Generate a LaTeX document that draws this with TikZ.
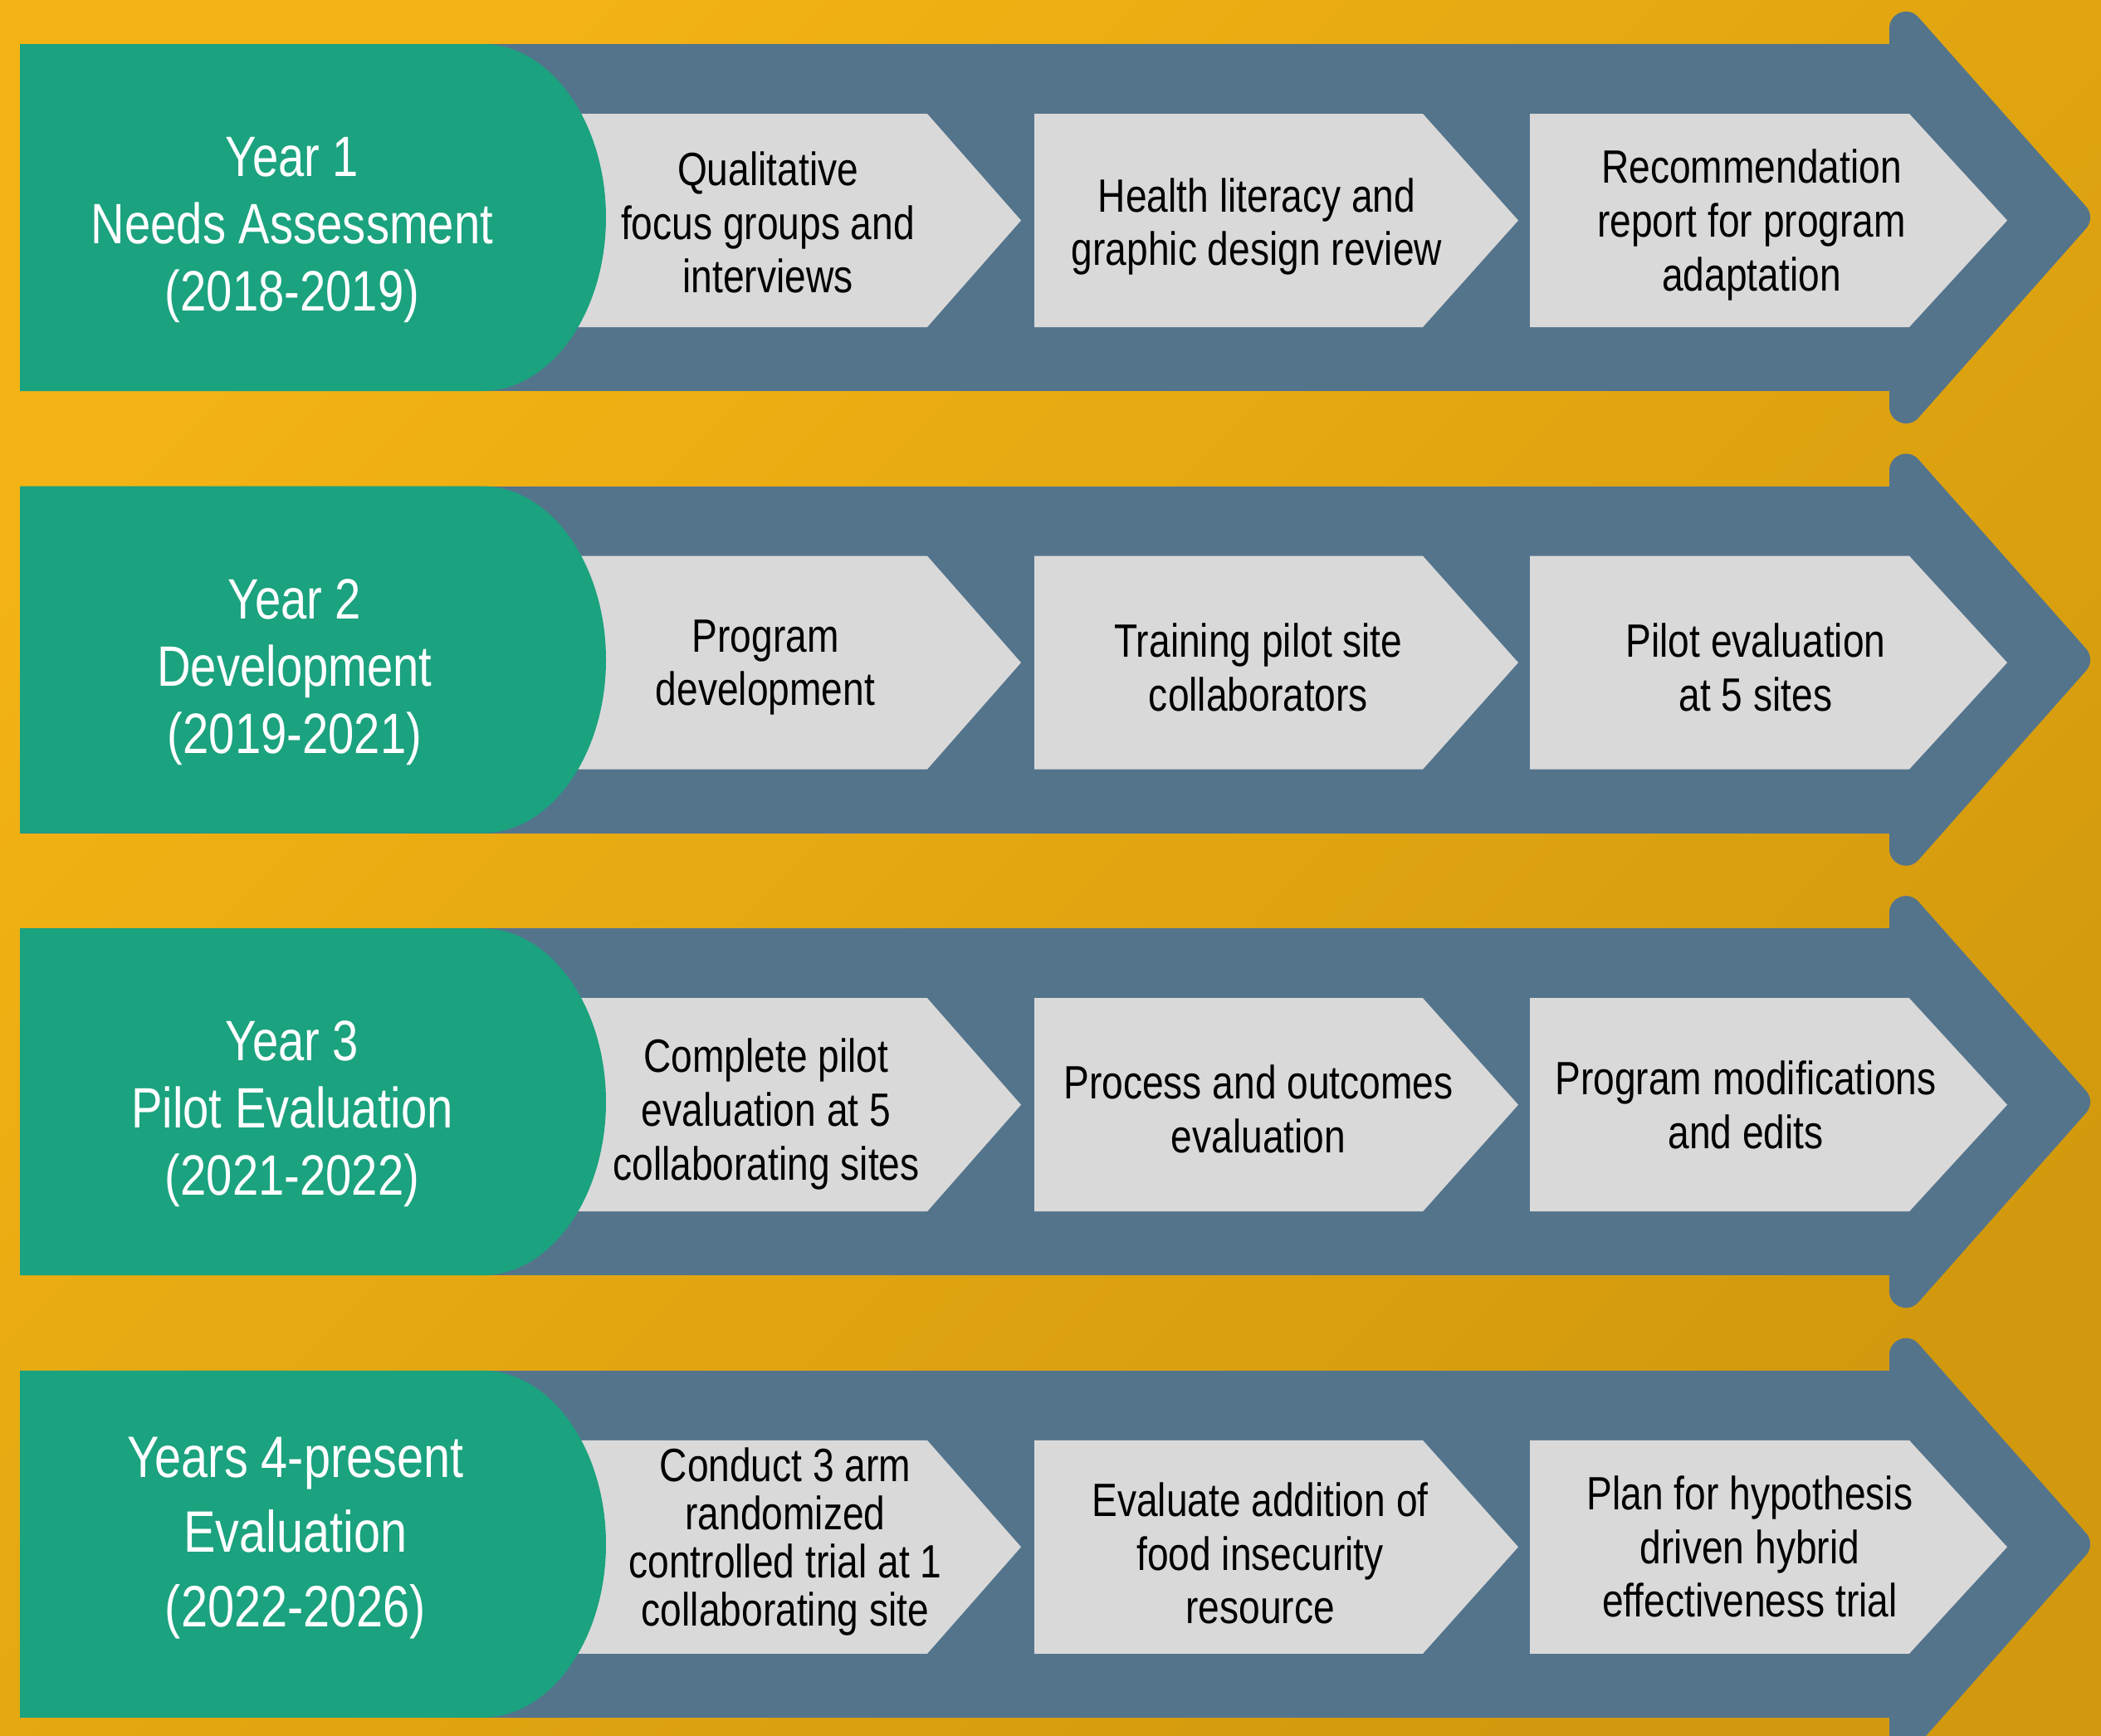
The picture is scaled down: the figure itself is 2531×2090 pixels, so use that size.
\documentclass[tikz,border=0pt]{standalone}
\usepackage{fontspec}
\setmainfont{Liberation Sans}[FakeStretch=0.82]
\usetikzlibrary{positioning}

\definecolor{bglight}{RGB}{243,179,20}
\definecolor{bgdark}{RGB}{210,153,14}
\definecolor{bandblue}{RGB}{84,116,140}
\definecolor{phasegreen}{RGB}{27,162,126}
\definecolor{boxgray}{RGB}{217,217,217}

\tikzstyle{band} = [fill=bandblue]
\tikzstyle{arrowtip} = [draw=bandblue, fill=bandblue, line width=0.4cm, line join=round]
\tikzstyle{phase} = [fill=phasegreen]
\tikzstyle{stepbox} = [fill=boxgray]
\tikzstyle{phasetext} = [text=white, align=center, inner sep=0pt, font=\fontsize{19.5}{23}\selectfont]
\tikzstyle{steptext} = [text=black, align=center, inner sep=0pt, font=\fontsize{16}{18.4}\selectfont]

\begin{document}
\begin{tikzpicture}[x=0.01cm, y=-0.01cm]

\useasboundingbox (0,0) rectangle (2531,2090);
\shade[top color=bglight, bottom color=bgdark, shading angle=45] (0,0) rectangle (2531,2090);

% one row per phase
\foreach \o in {0,532.6,1065.2,1597.8} {
  \fill[band] (24,53+\o) rectangle (2300,471+\o);
  \filldraw[arrowtip] (2296,34+\o) -- (2498,262+\o) -- (2296,490+\o) -- cycle;
  \fill[stepbox] (640,137+\o) -- (1117,137+\o) -- (1230,265.5+\o) -- (1117,394+\o) -- (640,394+\o) -- cycle;
  \fill[stepbox] (1246,137+\o) -- (1714,137+\o) -- (1829,265.5+\o) -- (1714,394+\o) -- (1246,394+\o) -- cycle;
  \fill[stepbox] (1843,137+\o) -- (2300,137+\o) -- (2418,265.5+\o) -- (2300,394+\o) -- (1843,394+\o) -- cycle;
  \fill[phase] (24,53+\o) -- (581,53+\o) .. controls (663,53+\o) and (730,147+\o) .. (730,262+\o)
    .. controls (730,377+\o) and (663,471+\o) .. (581,471+\o) -- (24,471+\o) -- cycle;
}

% year 1
\node (y1) [phasetext] at (352,277) {Year 1\\Needs Assessment\\(2018-2019)};
\node (s11) [steptext] at (925,268) {Qualitative\\focus groups and\\interviews};
\node (s12) [steptext] at (1514,273) {Health literacy and\\graphic design review};
\node (s13) [steptext] at (2110,271) {Recommendation\\report for program\\adaptation};

% year 2
\node (y2) [phasetext] at (355,810) {Year 2\\Development\\(2019-2021)};
\node (s21) [steptext] at (922,804) {Program\\development};
\node (s22) [steptext] at (1516,804) {Training pilot site\\collaborators};
\node (s23) [steptext] at (2115,804) {Pilot evaluation\\at 5 sites};

% year 3
\node (y3) [phasetext] at (352,1342) {Year 3\\Pilot Evaluation\\(2021-2022)};
\node (s31) [steptext] at (923,1342) {Complete pilot\\evaluation at 5\\collaborating sites};
\node (s32) [steptext] at (1516,1336) {Process and outcomes\\evaluation};
\node (s33) [steptext] at (2103,1331) {Program modifications\\and edits};

% years 4-present
\node (y4) [phasetext, font=\fontsize{20}{25.6}\selectfont] at (356,1853) {Years 4-present\\Evaluation\\(2022-2026)};
\node (s41) [steptext, font=\fontsize{16}{16.5}\selectfont] at (946,1857) {Conduct 3 arm\\randomized\\controlled trial at 1\\collaborating site};
\node (s42) [steptext] at (1518,1871) {Evaluate addition of\\food insecurity\\resource};
\node (s43) [steptext] at (2108,1863) {Plan for hypothesis\\driven hybrid\\effectiveness trial};

\end{tikzpicture}
\end{document}
